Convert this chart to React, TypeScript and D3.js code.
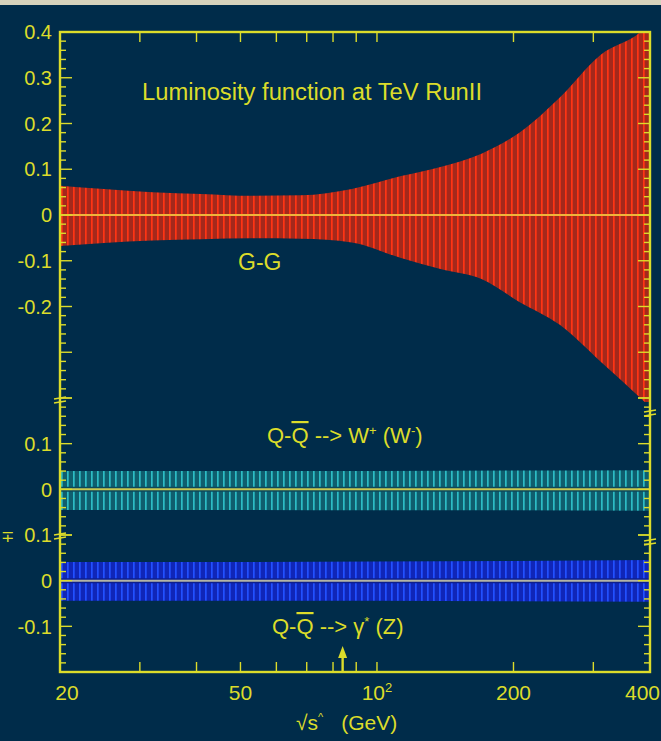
import React from "react";
import * as d3 from "d3";

const W = 661;
const H = 741;
const frame = { left: 60, right: 650, top: 32, bottom: 672 };

// G-G luminosity: fluctuation envelope vs sqrt(s-hat) [GeV]
const ggSqrtS = [20, 25, 32, 41, 53, 68, 88, 113, 138, 170, 206, 253, 311, 381, 400];
const ggUpper = [0.064, 0.057, 0.05, 0.046, 0.042, 0.043, 0.057, 0.085, 0.105, 0.134, 0.18, 0.257, 0.35, 0.4, 0.42];
const ggLower = [-0.068, -0.061, -0.056, -0.053, -0.051, -0.052, -0.06, -0.094, -0.118, -0.14, -0.19, -0.24, -0.32, -0.4, -0.42];

// Q-Qbar -> W+ (W-)
const wSqrtS = [20, 50, 100, 200, 400];
const wUpper = [0.04, 0.04, 0.04, 0.041, 0.042];
const wLower = [-0.045, -0.045, -0.046, -0.046, -0.047];

// Q-Qbar -> gamma* (Z)
const zSqrtS = [20, 50, 100, 200, 400];
const zUpper = [0.041, 0.041, 0.042, 0.043, 0.045];
const zLower = [-0.044, -0.044, -0.044, -0.045, -0.046];

// x axis
const xTickValues = [30, 40, 50, 60, 70, 80, 90, 100, 200, 300];
const xLabelValues = [20, 50, 100, 200, 400];
const xLabelTexts = ["20", "50", "10", "200", "400"];
const markerSqrtS = 84;

// y axis (three stacked panels)
const ggLabelValues = [0.4, 0.3, 0.2, 0.1, 0, -0.1, -0.2];
const wLabelValues = [0.1, 0];
const zLabelValues = [0.1, 0, -0.1];

const YELLOW = "#DCDC2A";
const NAVY = "#002C4A";
const FONT = "'Liberation Sans', Arial, Helvetica, sans-serif";

const x = d3.scaleLog().domain([20, 400]).range([frame.left, frame.right]);
const yGG = d3.scaleLinear().domain([-0.4, 0.4]).range([398, frame.top]);
const yW = d3.scaleLinear().domain([-0.1, 0.2]).range([535, 398]);
const yZ = d3.scaleLinear().domain([-0.2, 0.1]).range([frame.bottom, 535]);

type Panel = {
  id: string;
  y: d3.ScaleLinear<number, number>;
  sqrtS: number[];
  upper: number[];
  lower: number[];
  fill: string;
  line: string;
  zero: string;
  halo: string;
  labels: number[];
  clipTop: number;
  clipBottom: number;
};

const panels: Panel[] = [
  { id: "gg", y: yGG, sqrtS: ggSqrtS, upper: ggUpper, lower: ggLower, fill: "#A4291C", line: "#FF3414", zero: "#F0B43A", halo: "none", labels: ggLabelValues, clipTop: frame.top, clipBottom: 402 },
  { id: "w", y: yW, sqrtS: wSqrtS, upper: wUpper, lower: wLower, fill: "#0F5E6E", line: "#2DBCC5", zero: "#C8C850", halo: "#0B4A5C", labels: wLabelValues, clipTop: 398, clipBottom: 535 },
  { id: "z", y: yZ, sqrtS: zSqrtS, upper: zUpper, lower: zLower, fill: "#1026B8", line: "#2250FF", zero: "#B4B4A4", halo: "#0C1F90", labels: zLabelValues, clipTop: 535, clipBottom: frame.bottom },
];

function fmt(v: number) {
  if (Math.abs(v) < 1e-9) return "0";
  return d3.format(".1f")(v).replace("\u2212", "-");
}

function Band({ p }: { p: Panel }) {
  const pts = p.sqrtS.map((s, i) => ({ s, hi: p.upper[i], lo: p.lower[i] }));
  const area = d3
    .area<{ s: number; hi: number; lo: number }>()
    .x((d) => x(d.s))
    .y0((d) => p.y(d.lo))
    .y1((d) => p.y(d.hi))
    .curve(d3.curveMonotoneX);
  const y0 = p.y(0);
  return (
    <g clipPath={`url(#clip-${p.id})`}>
      <path d={area(pts) || ""} fill={`url(#hatch-${p.id})`} />
      {p.halo !== "none" ? (
        <line x1={frame.left} x2={frame.right} y1={y0} y2={y0} stroke={p.halo} strokeWidth={5} />
      ) : null}
      <line x1={frame.left} x2={frame.right} y1={y0} y2={y0} stroke={p.zero} strokeWidth={2} />
    </g>
  );
}

function LeftAxis() {
  const items: React.ReactNode[] = [];
  panels.forEach((p) => {
    const [d0, d1] = p.y.domain();
    const n = Math.round((d1 - d0) / 0.02);
    for (let i = 0; i <= n; i++) {
      const v = d0 + i * 0.02;
      const major = Math.abs(Math.round(v * 10) - v * 10) < 1e-6;
      const yy = p.y(v);
      if (yy <= frame.top + 1 || yy >= frame.bottom - 1) continue;
      const len = major ? 12 : 6;
      items.push(
        <line key={`l-${p.id}-${i}`} x1={frame.left} x2={frame.left + len} y1={yy} y2={yy} stroke={YELLOW} strokeWidth={1.4} />,
        <line key={`r-${p.id}-${i}`} x1={frame.right} x2={frame.right - len} y1={yy} y2={yy} stroke={YELLOW} strokeWidth={1.4} />
      );
    }
    p.labels.forEach((v, i) => {
      items.push(
        <text key={`t-${p.id}-${i}`} x={52} y={p.y(v)} dy="0.36em" textAnchor="end" fontSize={20} fill={YELLOW} fontFamily={FONT}>
          {fmt(v)}
        </text>
      );
    });
  });
  return <g>{items}</g>;
}

function BreakMark({ cx, cy }: { cx: number; cy: number }) {
  return (
    <g stroke={YELLOW} strokeWidth={1.6}>
      <line x1={cx - 6} x2={cx + 6} y1={cy - 1} y2={cy - 3} />
      <line x1={cx - 6} x2={cx + 6} y1={cy + 3} y2={cy + 1} />
    </g>
  );
}

export default function App() {
  const markerX = x(markerSqrtS);
  return (
    <div style={{ position: "absolute", left: 0, top: 0, width: W, height: H }}>
      <svg width={W} height={H} viewBox={`0 0 ${W} ${H}`} style={{ display: "block" }}>
        <defs>
          {panels.map((p) => (
            <pattern key={p.id} id={`hatch-${p.id}`} width={6} height={12} patternUnits="userSpaceOnUse">
              <rect width={6} height={12} fill={p.fill} />
              <rect x={1} width={1.7} height={12} fill={p.line} />
            </pattern>
          ))}
          {panels.map((p) => (
            <clipPath key={p.id} id={`clip-${p.id}`}>
              <rect x={frame.left} y={p.clipTop} width={frame.right - frame.left} height={p.clipBottom - p.clipTop} />
            </clipPath>
          ))}
        </defs>

        <rect width={W} height={H} fill={NAVY} />
        <rect width={W} height={5} fill="#D6D2BC" />

        {panels.map((p) => (
          <Band key={p.id} p={p} />
        ))}

        {/* frame */}
        <rect
          x={frame.left}
          y={frame.top}
          width={frame.right - frame.left}
          height={frame.bottom - frame.top}
          fill="none"
          stroke={YELLOW}
          strokeWidth={2.4}
        />

        <LeftAxis />

        {/* x ticks, bottom and top */}
        {xTickValues.map((v) => (
          <g key={v} stroke={YELLOW} strokeWidth={1.4}>
            <line x1={x(v)} x2={x(v)} y1={frame.bottom} y2={frame.bottom - 10} />
            <line x1={x(v)} x2={x(v)} y1={frame.top} y2={frame.top + 10} />
          </g>
        ))}

        {xLabelValues.map((v, i) => {
          const last = i === xLabelValues.length - 1;
          const cx = i === 0 ? x(v) + 7 : last ? W - 1 : x(v);
          return (
            <text key={v} x={cx} y={700} textAnchor={last ? "end" : "middle"} fontSize={21} fill={YELLOW} fontFamily={FONT}>
              {xLabelTexts[i]}
              {v === 100 ? (
                <tspan fontSize={13} dy={-8}>
                  2
                </tspan>
              ) : null}
            </text>
          );
        })}

        <text x={296} y={730} fontSize={21} fill={YELLOW} fontFamily={FONT}>
          √s
          <tspan fontSize={11} dy={-9}>^</tspan>
          <tspan dy={9} dx={18}>(GeV)</tspan>
        </text>

        {/* axis breaks */}
        <BreakMark cx={frame.left} cy={400} />
        <BreakMark cx={frame.left} cy={536} />
        <BreakMark cx={frame.right} cy={413} />
        <BreakMark cx={frame.right} cy={542} />
        <text x={7} y={536} dy="0.36em" textAnchor="middle" fontSize={16} fill={YELLOW} fontFamily={FONT}>
          ∓
        </text>

        {/* annotations */}
        <text x={142} y={100} fontSize={23} fill={YELLOW} fontFamily={FONT} textLength={340} lengthAdjust="spacingAndGlyphs">
          Luminosity function at TeV RunII
        </text>
        <text x={238} y={270} fontSize={23} fill={YELLOW} fontFamily={FONT}>
          G-G
        </text>
        <text x={267} y={443} fontSize={22} fill={YELLOW} fontFamily={FONT}>
          Q-
          <tspan style={{ textDecoration: "overline" }}>Q</tspan>
          {" --> W"}
          <tspan fontSize={13} dy={-8}>+</tspan>
          <tspan dy={8}>{" (W"}</tspan>
          <tspan fontSize={13} dy={-8}>-</tspan>
          <tspan dy={8}>)</tspan>
        </text>
        <text x={272} y={634} fontSize={22} fill={YELLOW} fontFamily={FONT}>
          Q-
          <tspan style={{ textDecoration: "overline" }}>Q</tspan>
          {" --> γ"}
          <tspan fontSize={13} dy={-8}>*</tspan>
          <tspan dy={8}>{" (Z)"}</tspan>
        </text>

        {/* marker arrow */}
        <line x1={markerX} x2={markerX} y1={frame.bottom} y2={656} stroke={YELLOW} strokeWidth={2.4} />
        <path d={`M${markerX},646 L${markerX - 4.5},658 L${markerX + 4.5},658 Z`} fill={YELLOW} />
      </svg>
    </div>
  );
}
